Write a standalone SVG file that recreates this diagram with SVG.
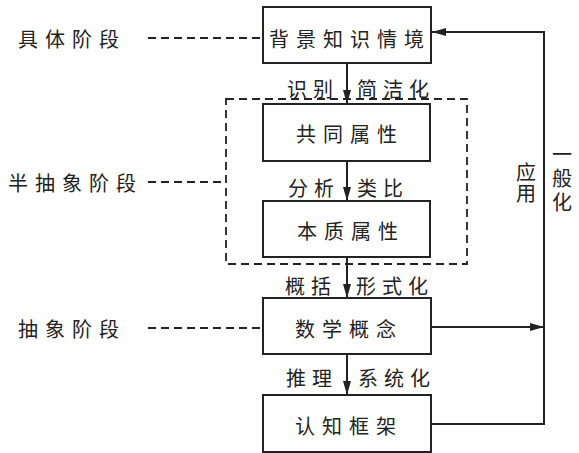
<svg xmlns="http://www.w3.org/2000/svg" width="579" height="453" viewBox="0 0 579 453">
<style>
.box{fill:#fff;stroke:#222;stroke-width:2}
.t{font-family:"Noto Sans CJK SC","Noto Sans",sans-serif;font-size:20px;fill:#222;dominant-baseline:central;letter-spacing:7px}
.e{letter-spacing:6px}
.v{font-family:"Noto Sans CJK SC","Noto Sans",sans-serif;font-size:20px;fill:#222;writing-mode:vertical-rl;text-orientation:upright}
.dash{fill:none;stroke:#222;stroke-width:1.8;stroke-dasharray:8,5}
.line{fill:none;stroke:#222;stroke-width:2}
</style>
<defs>
<marker id="arr" viewBox="0 0 14 8" refX="14" refY="4" markerWidth="14" markerHeight="8" markerUnits="userSpaceOnUse" orient="auto">
<path d="M0,0 L14,4 L0,8 Z" fill="#222"/>
</marker>
</defs>
<g id="stages">
<text class="t" x="18" y="38">具体阶段</text>
<text class="t" x="8" y="182">半抽象阶段</text>
<text class="t" x="18" y="328">抽象阶段</text>
</g>
<g id="connectors">
<path class="dash" d="M148,38 H263"/>
<path class="dash" d="M148,182 H226"/>
<path class="dash" d="M148,328 H263"/>
<rect class="dash" x="226" y="99" width="241" height="165"/>
<path class="line" d="M347,63 V104" marker-end="url(#arr)"/>
<path class="line" d="M347,161 V201" marker-end="url(#arr)"/>
<path class="line" d="M347,257 V298" marker-end="url(#arr)"/>
<path class="line" d="M347,354 V395" marker-end="url(#arr)"/>
<path class="line" d="M431,327 H544" marker-end="url(#arr)"/>
<path class="line" d="M431,424 H544 V32 H432" marker-end="url(#arr)"/>
<text class="t e" x="287" y="88">识别</text>
<text class="t e" x="357" y="88">简洁化</text>
<text class="t e" x="288" y="187">分析</text>
<text class="t e" x="357" y="187">类比</text>
<text class="t e" x="285" y="285">概括</text>
<text class="t e" x="356" y="285">形式化</text>
<text class="t e" x="286" y="377">推理</text>
<text class="t e" x="358" y="377">系统化</text>
<text class="v" x="526" y="162" letter-spacing="1">应用</text>
<text class="v" x="562" y="144" letter-spacing="4">一般化</text>
</g>
<g id="n1"><rect class="box" x="263" y="7" width="168" height="56"/><text class="t" x="269" y="38">背景知识情境</text></g>
<g id="n2"><rect class="box" x="263" y="104" width="167" height="57"/><text class="t" x="296" y="133">共同属性</text></g>
<g id="n3"><rect class="box" x="263" y="201" width="167" height="56"/><text class="t" x="297" y="230">本质属性</text></g>
<g id="n4"><rect class="box" x="263" y="298" width="168" height="56"/><text class="t" x="295" y="328">数学概念</text></g>
<g id="n5"><rect class="box" x="263" y="395" width="168" height="57"/><text class="t" x="295" y="425">认知框架</text></g>
</svg>
